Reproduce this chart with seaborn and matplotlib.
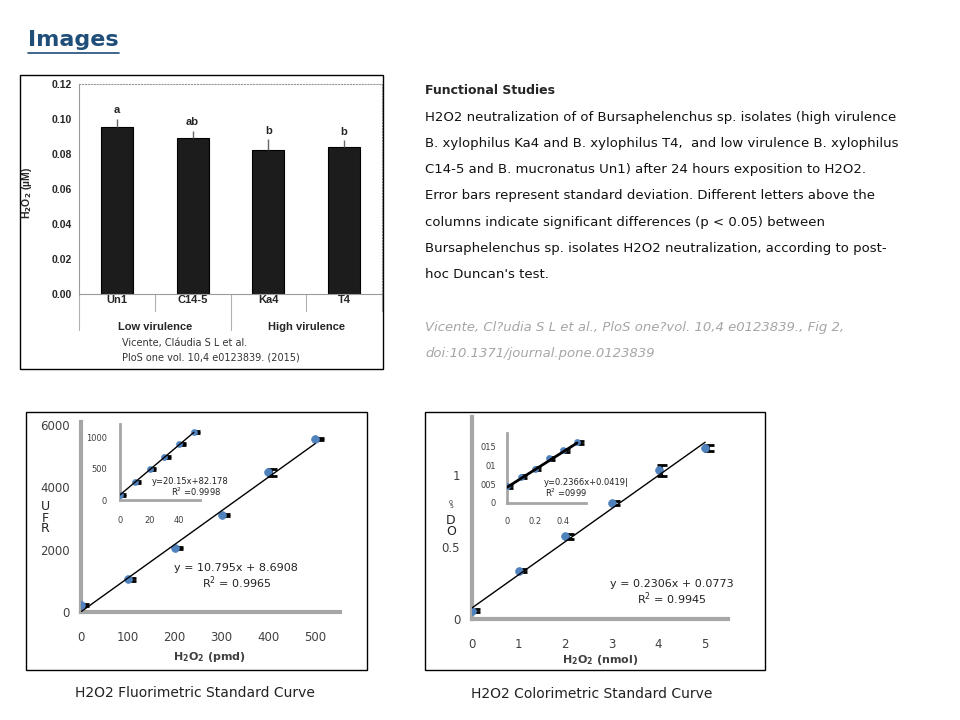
import numpy as np
import pandas as pd
import matplotlib
matplotlib.use("Agg")
import matplotlib.pyplot as plt
import matplotlib.transforms as mtransforms
from matplotlib.patches import Rectangle
from matplotlib.lines import Line2D
import seaborn as sns

# ---- data ----
isolates = ["Un1", "C14-5", "Ka4", "T4"]
h2o2_um = [0.0956, 0.0889, 0.0823, 0.0838]
h2o2_sd = [0.0045, 0.0044, 0.0061, 0.0042]
letters = ["a", "ab", "b", "b"]
groups = ["Low virulence", "High virulence"]

fluo_x = [0, 100, 200, 300, 400, 500]
fluo_y = [220, 1050, 2050, 3120, 4480, 5550]
fluo_err = [25, 40, 30, 30, 120, 30]
fluo_fit = (10.795, 8.6908)
fluo_in_x = [0, 10, 20, 30, 40, 50]
fluo_in_y = [85, 296, 500, 690, 903, 1100]
fluo_in_err = [15, 15, 15, 15, 15, 15]
fluo_in_fit = (20.15, 82.178)

colo_x = [0, 1, 2, 3, 4, 5]
colo_y = [0.058, 0.336, 0.575, 0.807, 1.035, 1.19]
colo_err = [0.01, 0.01, 0.02, 0.015, 0.04, 0.02]
colo_fit = (0.2306, 0.0773)
colo_in_x = [0, 0.1, 0.2, 0.3, 0.4, 0.5]
colo_in_y = [0.045, 0.07, 0.092, 0.119, 0.141, 0.162]
colo_in_err = [0.004, 0.004, 0.004, 0.004, 0.004, 0.004]
colo_in_fit = (0.2366, 0.0419)

body_lines = [
    "H2O2 neutralization of of Bursaphelenchus sp. isolates (high virulence",
    "B. xylophilus Ka4 and B. xylophilus T4,  and low virulence B. xylophilus",
    "C14-5 and B. mucronatus Un1) after 24 hours exposition to H2O2.",
    "Error bars represent standard deviation. Different letters above the",
    "columns indicate significant differences (p < 0.05) between",
    "Bursaphelenchus sp. isolates H2O2 neutralization, according to post-",
    "hoc Duncan's test.",
]
cite_lines = [
    "Vicente, Cl?udia S L et al., PloS one?vol. 10,4 e0123839., Fig 2,",
    "doi:10.1371/journal.pone.0123839",
]

sns.set_style("white")
plt.rcParams["font.family"] = ["DejaVu Sans"]

W, H = 960, 720
fig = plt.figure(figsize=(9.6, 7.2), dpi=100)


def rect(x0, y0, x1, y1):
    return [x0 / W, 1 - y1 / H, (x1 - x0) / W, (y1 - y0) / H]


def ftext(x, y, s, **kw):
    fig.text(x / W, 1 - y / H, s, **kw)


def box(x0, y0, x1, y1):
    fig.patches.append(Rectangle((x0 / W, 1 - y1 / H), (x1 - x0) / W, (y1 - y0) / H,
                                 transform=fig.transFigure, fill=False,
                                 edgecolor="black", linewidth=1))


# ---- title ----
ftext(28, 40, "Images", fontsize=16, fontweight="bold", color="#1F4E79", va="center")
fig.lines.append(Line2D([28 / W, 119 / W], [1 - 53 / H, 1 - 53 / H],
                        transform=fig.transFigure, color="#1F4E79", linewidth=1.2))

# ---- bar chart panel ----
box(20, 75, 383, 369)
ax = fig.add_axes(rect(79, 84, 382, 294))
bar_df = pd.DataFrame({"isolate": isolates, "h2o2": h2o2_um})
sns.barplot(data=bar_df, x="isolate", y="h2o2", color="#1c1c1c", width=0.42,
            edgecolor="black", linewidth=0.8, saturation=1, ax=ax)
pos = np.arange(len(isolates))
ax.errorbar(pos, h2o2_um, yerr=[np.zeros(len(pos)), h2o2_sd], fmt="none",
            ecolor="#666666", elinewidth=1, capsize=0)
for p, v, e, l in zip(pos, h2o2_um, h2o2_sd, letters):
    ax.annotate(l, (p, v + e), xytext=(0, 6), textcoords="offset points",
                ha="center", va="center", fontsize=8, fontweight="bold",
                family="Liberation Sans")
ax.set_ylim(0, 0.12)
ax.set_xlim(-0.5, 3.5)
ax.set_yticks([0, 0.02, 0.04, 0.06, 0.08, 0.10, 0.12])
ax.set_yticklabels([f"{t:.2f}" for t in ax.get_yticks()], fontweight="bold",
                   fontsize=7.5, family="Liberation Sans")
ax.set_xticks([])
ax.set_xlabel("")
ax.set_ylabel("")
for s in ["top", "right"]:
    ax.spines[s].set_linestyle(":")
    ax.spines[s].set_color("#9a9a9a")
    ax.spines[s].set_linewidth(0.8)
for s in ["left", "bottom"]:
    ax.spines[s].set_color("#9a9a9a")
    ax.spines[s].set_linewidth(0.8)
ax.tick_params(axis="y", length=3, color="#9a9a9a", pad=2)
tr = mtransforms.blended_transform_factory(ax.transData, ax.transAxes)
for xs in [0.5, 2.5, 3.5]:
    ax.add_line(Line2D([xs, xs], [0, -0.08], transform=tr, color="#b0b0b0",
                       linewidth=0.8, clip_on=False))
for xs in [-0.5, 1.5]:
    ax.add_line(Line2D([xs, xs], [0, -0.17], transform=tr, color="#b0b0b0",
                       linewidth=0.8, clip_on=False))
for p, c in zip(pos, isolates):
    ax.text(p, -0.03, c, transform=tr, ha="center", va="center", fontsize=8,
            fontweight="bold", family="Liberation Sans")
for gx, g in zip([0.5, 2.5], groups):
    ax.text(gx, -0.157, g, transform=tr, ha="center", va="center", fontsize=8,
            fontweight="bold", family="Liberation Sans")
ftext(27, 193, r"H$_\mathbf{2}$O$_\mathbf{2}$ (µM)", rotation=90, ha="center",
      va="center", fontsize=7.5, fontweight="bold", family="Liberation Sans")
ftext(122, 343, "Vicente, Cláudia S L et al.", fontsize=7, color="#333333", va="center")
ftext(122, 357, "PloS one vol. 10,4 e0123839. (2015)", fontsize=7, color="#333333",
      va="center")

# ---- right text ----
ftext(425, 91, "Functional Studies", fontsize=9, fontweight="bold", va="center")
for i, line in enumerate(body_lines):
    ftext(425, 117 + i * 26.3, line, fontsize=9.5, va="center", color="#111111")
for i, line in enumerate(cite_lines):
    ftext(425, 328 + i * 26, line, fontsize=9.5, va="center", color="#a6a6a6",
          style="italic")

GRAY = "#a6a6a6"
BLUE = "#4F81BD"


def style_axes(a, size, lw, tl, xpad, ypad):
    sns.despine(ax=a)
    for s in ["left", "bottom"]:
        a.spines[s].set_color(GRAY)
        a.spines[s].set_linewidth(lw)
    a.tick_params(length=tl, width=lw * 0.8, color=GRAY, labelsize=size,
                  labelcolor="#404040", direction="out")
    a.tick_params(axis="x", pad=xpad)
    a.tick_params(axis="y", pad=ypad)
    a.set_xlabel("")
    a.set_ylabel("")
    a.patch.set_alpha(0)


def curve(a, xs, ys, errs, fit, ms, lw):
    off = mtransforms.offset_copy(a.transData, fig=fig, x=2.5, y=0, units="points")
    a.errorbar(xs, ys, yerr=errs, fmt="none", ecolor="black", elinewidth=1.5,
               capsize=ms * 0.45, capthick=2, transform=off, zorder=2)
    sns.scatterplot(x=xs, y=ys, color=BLUE, marker="o", s=ms * 4, edgecolor=BLUE,
                    ax=a, zorder=3)
    lx = np.array([min(xs), max(xs)])
    sns.lineplot(x=lx, y=fit[0] * lx + fit[1], color="black", linewidth=lw, ax=a,
                 zorder=4)


# ---- fluorimetric ----
box(26, 412, 367, 670)
a1 = fig.add_axes(rect(81, 422, 340, 612))
curve(a1, fluo_x, fluo_y, fluo_err, fluo_fit, 8, 1)
a1.set_xlim(0, 553)
a1.set_ylim(0, 6100)
a1.set_xticks([0, 100, 200, 300, 400, 500])
a1.set_yticks([0, 2000, 4000, 6000])
style_axes(a1, 8.5, 3, 4, 10, 4)
a1.text(0.6, 0.185, "y = 10.795x + 8.6908\nR$^2$ = 0.9965", transform=a1.transAxes,
        ha="center", va="center", fontsize=8, color="#222222", linespacing=1.1)
ftext(210, 657, r"H$_\mathbf{2}$O$_\mathbf{2}$ (pmd)", ha="center", va="center",
      fontsize=8, fontweight="bold", color="#404040")
ftext(45, 518, "U\nF\nR", ha="center", va="center", fontsize=9, linespacing=0.8,
      color="#222222")

b1 = fig.add_axes(rect(120, 424, 200, 500))
curve(b1, fluo_in_x, fluo_in_y, fluo_in_err, fluo_in_fit, 5, 1)
b1.set_xlim(0, 54.2)
b1.set_ylim(0, 1225)
b1.set_xticks([0, 20, 40])
b1.set_yticks([0, 500, 1000])
style_axes(b1, 6, 2, 3, 8.5, 6.5)
b1.text(0.88, 0.25, "y=20.15x+82.178", transform=b1.transAxes, ha="center",
        va="center", fontsize=6, color="#222222")
b1.text(0.95, 0.11, "R$^2$ =0.9998", transform=b1.transAxes, ha="center",
        va="center", fontsize=6, color="#222222")

# ---- colorimetric ----
box(425, 412, 765, 670)
a2 = fig.add_axes(rect(472, 417, 728, 619))
curve(a2, colo_x, colo_y, colo_err, colo_fit, 8, 1)
a2.set_xlim(0, 5.49)
a2.set_ylim(0, 1.406)
a2.set_xticks([0, 1, 2, 3, 4, 5])
a2.set_yticks([0, 0.5, 1])
a2.set_yticklabels(["0", "0.5", "1"])
style_axes(a2, 8.5, 3, 4, 9.5, 4.5)
a2.text(0.78, 0.13, "y = 0.2306x + 0.0773\nR$^2$ = 0.9945", transform=a2.transAxes,
        ha="center", va="center", fontsize=8, color="#222222", linespacing=1.1)
ftext(600, 660, r"H$_\mathbf{2}$O$_\mathbf{2}$ (nmol)", ha="center", va="center",
      fontsize=8, fontweight="bold", color="#404040")
ftext(451, 505, "0\n5", ha="center", va="center", fontsize=4.5, linespacing=0.75,
      color="#222222")
ftext(451, 526, "D\nO", ha="center", va="center", fontsize=9, linespacing=0.8,
      color="#222222")

b2 = fig.add_axes(rect(507, 433, 586, 503))
curve(b2, colo_in_x, colo_in_y, colo_in_err, colo_in_fit, 5, 2)
b2.set_xlim(0, 0.564)
b2.set_ylim(0, 0.187)
b2.set_xticks([0, 0.2, 0.4])
b2.set_xticklabels(["0", "0.2", "0.4"])
b2.set_yticks([0, 0.05, 0.1, 0.15])
b2.set_yticklabels(["0", "005", "01", "015"])
style_axes(b2, 6, 2, 3, 7, 5)
b2.text(1.0, 0.29, "y=0.2366x+0.0419|", transform=b2.transAxes, ha="center",
        va="center", fontsize=6, color="#222222")
b2.text(0.75, 0.14, "R$^2$ =0999", transform=b2.transAxes, ha="center",
        va="center", fontsize=6, color="#222222")

# ---- captions ----
ftext(195, 693, "H2O2 Fluorimetric Standard Curve", ha="center", va="center",
      fontsize=10, color="#222222")
ftext(592, 694, "H2O2 Colorimetric Standard Curve", ha="center", va="center",
      fontsize=10, color="#222222")

fig.savefig("out.png", dpi=100)
